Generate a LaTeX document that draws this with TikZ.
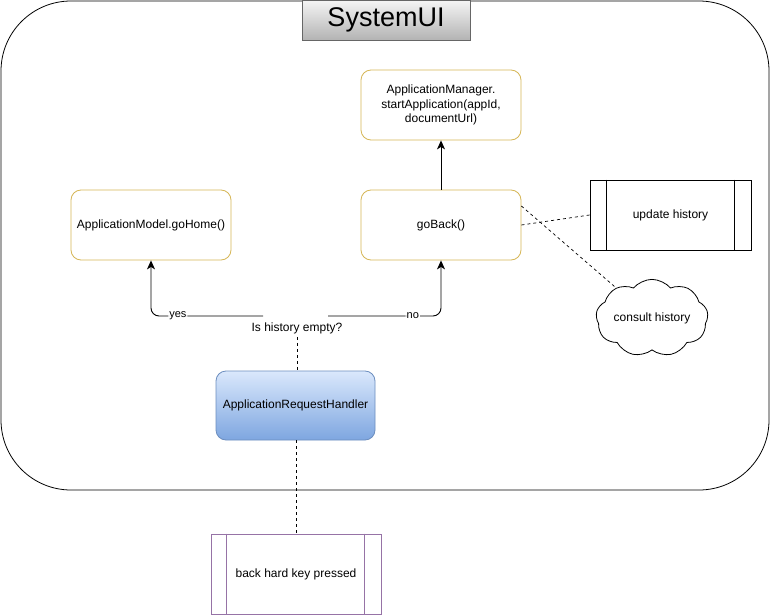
\documentclass[tikz,border=0pt]{standalone}
\usepackage{fontspec}
\setmainfont{Liberation Sans}
\usetikzlibrary{shapes.symbols,arrows.meta}
\definecolor{ylw}{HTML}{D6B656}
\definecolor{prp}{HTML}{9673A6}
\definecolor{bluetop}{HTML}{DAE8FC}
\definecolor{bluebot}{HTML}{7EA6E0}
\definecolor{blueln}{HTML}{6C8EBF}
\definecolor{graytop}{HTML}{F5F5F5}
\definecolor{graybot}{HTML}{B3B3B3}
\begin{document}
\begin{tikzpicture}[x=1pt,y=-1pt,
  every node/.style={font=\fontsize{12}{14.5}\selectfont, inner sep=0pt, align=center},
  ybox/.style={draw=ylw, line width=0.8pt, rounded corners=10pt, minimum width=160pt, minimum height=70pt, fill=white},
  procbox/.style={draw, line width=0.8pt, minimum width=161pt, minimum height=70pt},
  conn/.style={line width=0.9pt, -{Stealth[length=9pt,width=8pt,inset=2.5pt]}},
  dsh/.style={line width=0.7pt, dash pattern=on 3pt off 3pt}]
\useasboundingbox (0,0) rectangle (771,615);
\fill[white] (0,0) rectangle (771,615);
\draw[line width=0.8pt, rounded corners=70pt] (1,1) rectangle (769,490);
\node[draw=black!60, line width=0.8pt, top color=graytop, bottom color=graybot, minimum width=168pt, minimum height=40pt, font=\fontsize{27}{31}\selectfont] (title) at (386,20) {SystemUI};
\node[ybox] (am) at (441,105) {ApplicationManager.\\startApplication(appId,\\documentUrl)};
\node[ybox] (home) at (151,225) {ApplicationModel.goHome()};
\node[ybox] (back) at (441,225) {goBack()};
\node[procbox] (upd) at (670.5,215) {update history};
\draw[line width=0.8pt] ([xshift=17pt]upd.north west) -- ([xshift=17pt]upd.south west);
\draw[line width=0.8pt] ([xshift=-17pt]upd.north east) -- ([xshift=-17pt]upd.south east);
\node[cloud, draw, line width=0.8pt, cloud puffs=9, cloud puff arc=100, aspect=1.7, minimum width=110pt, minimum height=70pt] (cloud) at (652,318) {consult history};
\node[draw=blueln, line width=0.8pt, rounded corners=10pt, top color=bluetop, bottom color=bluebot, minimum width=159pt, minimum height=69pt] (arh) at (295.5,405.5) {ApplicationRequestHandler};
\node[draw=prp, line width=0.8pt, minimum width=170pt, minimum height=80pt] (key) at (296,574) {back hard key pressed};
\draw[prp, line width=0.8pt] ([xshift=16pt]key.north west) -- ([xshift=16pt]key.south west);
\draw[prp, line width=0.8pt] ([xshift=-17pt]key.north east) -- ([xshift=-17pt]key.south east);
\node (q) at (297,328) {Is history empty?};
\coordinate (ql) at (263,316);
\coordinate (qr) at (328,316);
\draw[conn, rounded corners=8pt] (ql) -| node[pos=0.38, fill=white, inner sep=1pt, font=\fontsize{11}{13}\selectfont] {yes} (home.south);
\draw[conn, rounded corners=8pt] (qr) -| node[pos=0.375, fill=white, inner sep=1pt, font=\fontsize{11}{13}\selectfont] {no} (back.south);
\draw[conn] (back.north) -- (am.south);
\draw[dsh] ([yshift=-3pt]q.south) -- (q.south |- arh.north);
\draw[dsh] (arh.south -| key.north) -- (key.north);
\draw[dsh] (back.east) -- (upd.west);
\draw[dsh] ([yshift=19pt]back.east) -- (cloud.140);
\end{tikzpicture}
\end{document}
